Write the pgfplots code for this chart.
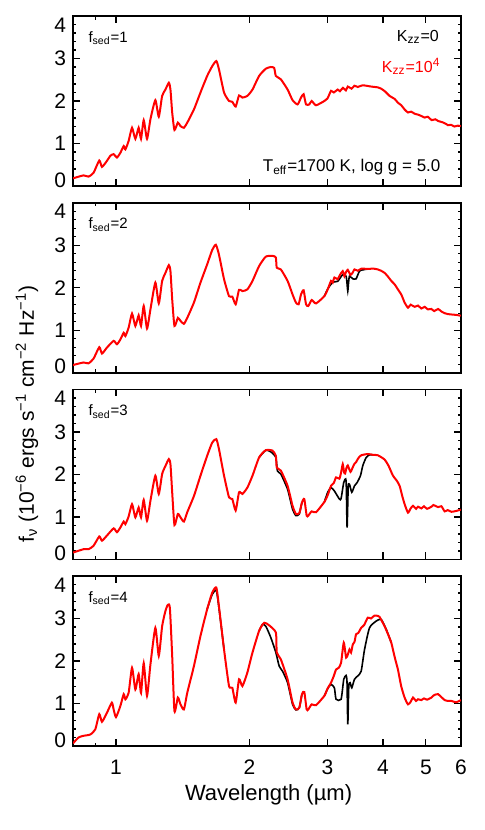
\documentclass[border=0pt]{standalone}
\usepackage{fontspec}
\setmainfont{Liberation Sans}
\usepackage{pgfplots}
\pgfplotsset{compat=1.18}

\pgfplotsset{
  every axis/.append style={
    scale only axis, width=194pt, height=85pt,
    anchor=north west,
    xmin=0.8, xmax=6, ymin=0, ymax=4,
    xtick={1,2,3,4,5,6}, minor xtick={0.9},
    ytick={0,1,2,3,4}, minor y tick num=4,
    yticklabels={0,1,2,3,4},
    tick align=inside,
    axis line style={line width=0.8pt},
    tick style={black, line width=0.6pt},
    major tick length=3.5pt, minor tick length=1.75pt,
    ticklabel style={font=\fontsize{10.5}{12}\selectfont},
    yticklabel style={/utils/exec={%
      \ifnum\ticknum=0\relax\pgfkeysalso{/tikz/yshift=3pt}\fi
      \ifnum\ticknum=4\relax\pgfkeysalso{/tikz/yshift=-4.5pt}\fi}},
  },
}
\tikzset{
  kz0/.style={black, line width=0.8pt, smooth, tension=0.35},
  kz4/.style={red, line width=1pt, smooth, tension=0.35},
  lab/.style={inner sep=0pt, font=\fontsize{8}{10}\selectfont},
  seds/.style={lab, anchor=west, font=\fontsize{7.5}{9}\selectfont},
}

\begin{document}
\begin{tikzpicture}
\path[use as bounding box] (0,0) rectangle (242.5pt,-415pt);

% ---- fsed = 1
\begin{semilogxaxis}[at={(36.5pt,-8pt)}, xticklabels={}]
\addplot[kz4] table {
0.800 0.18
0.845 0.25
0.867 0.22
0.890 0.31
0.917 0.60
0.930 0.45
0.954 0.59
0.971 0.71
0.988 0.75
1.005 0.67
1.023 0.78
1.041 0.94
1.050 0.86
1.068 1.06
1.087 1.37
1.106 1.11
1.125 1.37
1.139 1.11
1.155 1.55
1.175 1.11
1.196 1.57
1.227 2.02
1.249 1.63
1.271 2.12
1.293 2.27
1.316 2.43
1.327 2.27
1.339 1.73
1.355 1.32
1.379 1.49
1.398 1.41
1.423 1.37
1.448 1.49
1.499 1.80
1.551 2.20
1.606 2.59
1.649 2.82
1.684 2.94
1.707 2.75
1.753 2.20
1.799 2.00
1.830 1.98
1.862 1.87
1.895 2.13
1.928 2.08
1.979 2.12
2.032 2.27
2.103 2.59
2.177 2.76
2.235 2.80
2.274 2.78
2.294 2.59
2.354 2.51
2.438 2.27
2.502 2.02
2.568 1.92
2.614 2.08
2.650 2.16
2.683 1.92
2.729 1.92
2.763 2.00
2.826 1.90
2.951 2.00
3.000 2.06
3.055 2.24
3.100 2.20
3.163 2.27
3.200 2.23
3.250 2.31
3.300 2.25
3.333 2.34
3.400 2.29
3.450 2.36
3.511 2.33
3.600 2.37
3.763 2.34
3.900 2.32
3.965 2.29
4.050 2.22
4.140 2.12
4.250 2.05
4.324 1.96
4.400 1.90
4.477 1.80
4.556 1.73
4.630 1.75
4.717 1.70
4.800 1.68
4.900 1.64
4.970 1.61
5.050 1.63
5.150 1.55
5.250 1.57
5.326 1.53
5.450 1.50
5.550 1.46
5.610 1.43
5.700 1.44
5.800 1.40
5.900 1.42
5.995 1.41
};
\node[seds] at (rel axis cs:0.039,0.87) {f\textsubscript{sed}=1};
\node[lab, anchor=east] at (rel axis cs:0.944,0.875) {K\textsubscript{zz}=0};
\node[lab, anchor=east, text=red] at (rel axis cs:0.948,0.705) {K\textsubscript{zz}=10\textsuperscript{4}};
\node[lab, anchor=east, font=\fontsize{8.5}{10}\selectfont] at (rel axis cs:0.948,0.11) {T\textsubscript{eff}=1700 K, log g = 5.0};
\end{semilogxaxis}

% ---- fsed = 2
\begin{semilogxaxis}[at={(36.5pt,-101.35pt)}, xticklabels={}]
\addplot[kz0] table {
2.951 1.80
3.003 1.97
3.082 2.13
3.163 2.15
3.247 2.31
3.304 2.27
3.320 2.10
3.333 1.92
3.345 2.10
3.362 2.27
3.421 2.21
3.480 2.21
3.541 2.39
3.604 2.42
3.698 2.44
};
\addplot[kz4] table {
0.800 0.18
0.845 0.24
0.867 0.22
0.890 0.33
0.917 0.60
0.930 0.45
0.954 0.59
0.988 0.75
1.005 0.67
1.023 0.78
1.041 0.94
1.050 0.86
1.068 1.06
1.087 1.39
1.106 1.10
1.125 1.35
1.139 1.10
1.155 1.57
1.175 1.04
1.196 1.49
1.227 2.12
1.249 1.63
1.271 2.16
1.293 2.35
1.316 2.53
1.327 2.39
1.339 1.73
1.355 1.10
1.379 1.29
1.398 1.22
1.423 1.15
1.448 1.29
1.499 1.65
1.551 2.12
1.606 2.55
1.649 2.89
1.680 3.01
1.707 2.78
1.753 2.20
1.799 1.80
1.830 1.79
1.862 1.61
1.895 1.95
1.928 1.92
1.979 1.96
2.032 2.16
2.103 2.51
2.177 2.73
2.254 2.75
2.294 2.71
2.305 2.47
2.354 2.43
2.438 2.16
2.502 1.84
2.546 1.65
2.582 1.61
2.614 1.84
2.650 1.94
2.683 1.61
2.715 1.57
2.763 1.71
2.826 1.63
2.951 1.80
3.000 1.95
3.055 2.16
3.082 2.12
3.109 2.24
3.163 2.20
3.200 2.30
3.247 2.39
3.275 2.27
3.300 2.36
3.333 2.42
3.380 2.30
3.421 2.36
3.451 2.43
3.511 2.40
3.580 2.45
3.698 2.44
3.800 2.45
3.896 2.43
3.960 2.40
4.034 2.35
4.100 2.27
4.178 2.16
4.250 2.08
4.324 1.96
4.400 1.84
4.477 1.65
4.556 1.53
4.620 1.60
4.717 1.55
4.800 1.58
4.884 1.51
4.970 1.55
5.050 1.49
5.145 1.50
5.220 1.45
5.326 1.50
5.420 1.44
5.513 1.40
5.600 1.38
5.709 1.37
5.850 1.36
5.995 1.34
};
\node[seds] at (rel axis cs:0.039,0.87) {f\textsubscript{sed}=2};
\end{semilogxaxis}

% ---- fsed = 3
\begin{semilogxaxis}[at={(36.5pt,-194.7pt)}, xticklabels={}]
\addplot[kz0] table {
2.103 2.40
2.177 2.57
2.235 2.53
2.294 2.40
2.313 2.08
2.354 2.01
2.438 1.65
2.502 1.18
2.546 1.03
2.591 1.07
2.627 1.34
};
\addplot[kz0] table {
2.951 1.35
3.003 1.58
3.055 1.69
3.109 1.61
3.191 1.42
3.219 1.43
3.264 1.81
3.304 1.85
3.321 0.75
3.340 1.70
3.362 1.77
3.403 1.58
3.451 1.73
3.499 1.81
3.560 1.97
3.604 2.21
3.668 2.40
3.731 2.46
3.800 2.46
};
\addplot[kz4] table {
0.800 0.16
0.845 0.24
0.867 0.24
0.890 0.32
0.917 0.54
0.930 0.44
0.954 0.56
0.988 0.73
1.005 0.64
1.023 0.75
1.041 0.89
1.050 0.83
1.068 1.01
1.087 1.30
1.106 0.99
1.125 1.22
1.139 0.99
1.155 1.40
1.175 0.91
1.196 1.38
1.227 1.97
1.249 1.54
1.271 2.01
1.293 2.20
1.316 2.36
1.327 2.24
1.339 1.58
1.355 0.81
1.379 1.07
1.398 0.99
1.423 0.89
1.448 1.11
1.499 1.49
1.551 1.97
1.606 2.44
1.649 2.75
1.684 2.83
1.707 2.60
1.753 1.97
1.799 1.46
1.830 1.42
1.862 1.15
1.895 1.58
1.928 1.54
1.979 1.69
2.032 1.97
2.103 2.40
2.177 2.57
2.254 2.56
2.294 2.44
2.305 2.16
2.354 2.09
2.438 1.73
2.502 1.26
2.546 1.07
2.591 1.09
2.627 1.34
2.659 1.42
2.692 1.03
2.715 1.03
2.763 1.13
2.826 1.11
2.951 1.35
3.000 1.50
3.055 1.73
3.100 1.80
3.136 1.93
3.191 1.90
3.220 2.05
3.247 2.24
3.270 2.05
3.287 2.02
3.310 2.15
3.333 2.21
3.380 2.06
3.421 2.17
3.451 2.25
3.480 2.29
3.520 2.38
3.573 2.45
3.698 2.48
3.800 2.46
3.896 2.45
4.034 2.35
4.120 2.20
4.214 1.97
4.300 1.85
4.363 1.73
4.420 1.50
4.477 1.30
4.556 1.10
4.620 1.20
4.676 1.26
4.750 1.19
4.800 1.24
4.884 1.20
4.950 1.25
5.030 1.19
5.145 1.24
5.200 1.28
5.326 1.23
5.420 1.25
5.513 1.13
5.600 1.16
5.709 1.12
5.850 1.14
5.995 1.17
};
\node[seds] at (rel axis cs:0.039,0.87) {f\textsubscript{sed}=3};
\end{semilogxaxis}

% ---- fsed = 4
\begin{semilogxaxis}[at={(36.5pt,-288pt)}, xticklabels={1,2,3,4,5,6},
  xticklabel style={yshift=-3.5pt}]
\addplot[kz0] table {
1.606 3.22
1.649 3.57
1.684 3.66
1.707 3.25
1.753 2.27
};
\addplot[kz0] table {
2.103 2.71
2.140 2.86
2.177 2.82
2.235 2.55
2.294 2.20
2.334 1.88
2.375 1.76
2.438 1.49
2.502 0.98
2.546 0.85
2.591 0.90
2.627 1.22
};
\addplot[kz0] table {
2.951 1.18
3.003 1.35
3.055 1.45
3.109 1.37
3.136 1.10
3.219 1.10
3.264 1.57
3.304 1.66
3.320 1.50
3.333 0.51
3.350 1.40
3.373 1.49
3.403 1.37
3.451 1.57
3.511 1.65
3.573 1.76
3.636 2.27
3.731 2.78
3.863 2.94
3.965 2.98
4.071 2.74
4.178 2.43
};
\addplot[kz4] table {
0.800 0.06
0.823 0.20
0.845 0.24
0.875 0.27
0.898 0.39
0.917 0.75
0.930 0.57
0.954 0.78
0.979 1.02
0.988 0.86
1.000 0.68
1.023 0.94
1.041 1.22
1.050 1.10
1.068 1.25
1.087 1.84
1.106 1.33
1.125 1.69
1.139 1.25
1.155 1.95
1.175 1.18
1.196 1.92
1.227 2.78
1.249 2.12
1.271 2.82
1.293 3.18
1.309 3.32
1.323 3.25
1.339 2.12
1.355 0.82
1.379 1.14
1.398 0.98
1.423 0.86
1.448 1.25
1.499 1.88
1.551 2.59
1.606 3.22
1.649 3.61
1.684 3.73
1.707 3.29
1.753 2.27
1.799 1.41
1.830 1.37
1.862 1.02
1.895 1.57
1.928 1.41
1.979 1.73
2.032 2.20
2.103 2.71
2.159 2.90
2.215 2.84
2.294 2.67
2.305 2.20
2.354 2.04
2.438 1.57
2.502 1.02
2.546 0.86
2.591 0.90
2.627 1.22
2.659 1.27
2.692 0.86
2.715 0.86
2.763 0.98
2.826 0.96
2.951 1.18
3.000 1.35
3.055 1.49
3.100 1.65
3.136 1.80
3.180 1.84
3.219 1.96
3.264 2.43
3.304 2.08
3.333 2.15
3.362 2.27
3.390 2.20
3.421 2.39
3.451 2.45
3.480 2.63
3.520 2.66
3.573 2.78
3.630 2.85
3.698 3.02
3.760 3.00
3.829 3.07
3.900 3.06
3.930 3.04
4.034 2.82
4.100 2.65
4.178 2.43
4.250 2.10
4.324 1.80
4.400 1.40
4.477 1.14
4.556 0.98
4.620 1.04
4.676 1.14
4.750 1.06
4.800 1.10
4.884 1.08
4.950 1.12
5.030 1.09
5.145 1.14
5.220 1.20
5.326 1.22
5.420 1.15
5.513 1.08
5.600 1.06
5.709 1.06
5.850 1.03
5.995 1.08
};
\node[seds] at (rel axis cs:0.039,0.87) {f\textsubscript{sed}=4};
\end{semilogxaxis}

\node[rotate=90, font=\fontsize{10.5}{13}\selectfont] at (13.5pt,-207pt)
  {f\textsubscript{ν} (10\textsuperscript{−6} ergs s\textsuperscript{−1} cm\textsuperscript{−2} Hz\textsuperscript{−1})};
\node[anchor=base, font=\fontsize{11}{13}\selectfont] at (134.3pt,-400pt) {Wavelength (µm)};
\end{tikzpicture}
\end{document}
